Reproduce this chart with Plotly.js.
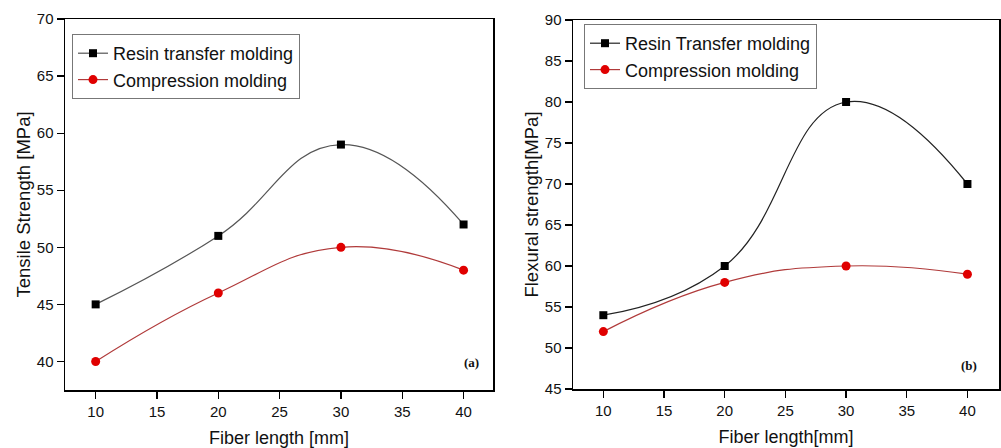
<!DOCTYPE html>
<html>
<head>
<meta charset="utf-8">
<script src="https://cdn.plot.ly/plotly-3.0.1.min.js"></script>
<style>html,body{margin:0;padding:0;background:#fff;}#chart{width:1001px;height:448px;}</style>
</head>
<body>
<div id="chart"></div>
<script>
const fiberLength = [10, 20, 30, 40];
const tensileRTM = [45, 51, 59, 52];
const tensileCM = [40, 46, 50, 48];
const flexuralRTM = [54, 60, 80, 70];
const flexuralCM = [52, 58, 60, 59];
const xTicks = [10, 15, 20, 25, 30, 35, 40];
const yTicksA = [40, 45, 50, 55, 60, 65, 70];
const yTicksB = [45, 50, 55, 60, 65, 70, 75, 80, 85, 90];

const FONT = 'Liberation Sans, Arial, sans-serif';

const traces = [
  {x: fiberLength, y: tensileRTM, name: 'Resin transfer molding', xaxis: 'x', yaxis: 'y', legend: 'legend',
   mode: 'lines+markers', line: {shape: 'spline', smoothing: 1.3, color: '#555555', width: 1.2},
   marker: {symbol: 'square', size: 8, color: '#000000'}},
  {x: fiberLength, y: tensileCM, name: 'Compression molding', xaxis: 'x', yaxis: 'y', legend: 'legend',
   mode: 'lines+markers', line: {shape: 'spline', smoothing: 1.3, color: '#b03a3a', width: 1.2},
   marker: {symbol: 'circle', size: 9, color: '#e00000'}},
  {x: fiberLength, y: flexuralRTM, name: 'Resin Transfer molding', xaxis: 'x2', yaxis: 'y2', legend: 'legend2',
   mode: 'lines+markers', line: {shape: 'spline', smoothing: 1.3, color: '#222222', width: 1.2},
   marker: {symbol: 'square', size: 8, color: '#000000'}},
  {x: fiberLength, y: flexuralCM, name: 'Compression molding', xaxis: 'x2', yaxis: 'y2', legend: 'legend2',
   mode: 'lines+markers', line: {shape: 'spline', smoothing: 1.3, color: '#b03a3a', width: 1.2},
   marker: {symbol: 'circle', size: 9, color: '#e00000'}}
];

function xax(domain, range, anchor, title) {
  return {domain: domain, range: range, anchor: anchor, tickvals: xTicks, ticks: 'outside', ticklen: 7, tickwidth: 1.2,
    tickcolor: '#000', showline: true, linecolor: '#000', linewidth: 1.5, mirror: true, showgrid: false, zeroline: false,
    tickfont: {family: FONT, size: 15, color: '#111'},
    title: {text: title, font: {family: FONT, size: 18, color: '#111'}, standoff: 13}, automargin: false};
}
function yax(domain, range, anchor, ticks, title) {
  return {domain: domain, range: range, anchor: anchor, tickvals: ticks, ticks: 'outside', ticklen: 7, tickwidth: 1.2,
    tickcolor: '#000', showline: true, linecolor: '#000', linewidth: 1.5, mirror: true, showgrid: false, zeroline: false,
    tickfont: {family: FONT, size: 15, color: '#111'},
    title: {text: title, font: {family: FONT, size: 18.5, color: '#111'}, standoff: 1}, automargin: false};
}

const layout = {
  width: 1001, height: 448,
  margin: {l: 0, r: 0, t: 0, b: 0},
  paper_bgcolor: '#fff', plot_bgcolor: '#fff',
  showlegend: true,
  xaxis: xax([65/1001, 493/1001], [7.5, 42.4], 'y', 'Fiber length [mm]'),
  yaxis: yax([1-390/448, 1-19/448], [37.5, 70], 'x', yTicksA, 'Tensile Strength [MPa]'),
  xaxis2: xax([573/1001, 999/1001], [7.5, 42.6], 'y2', 'Fiber length[mm]'),
  yaxis2: yax([1-389/448, 1-20/448], [45, 90], 'x2', yTicksB, 'Flexural strength[MPa]'),
  legend: {x: 72/1001, y: 1-34/448, xanchor: 'left', yanchor: 'top', bgcolor: '#fff', bordercolor: '#777', borderwidth: 1,
    font: {family: FONT, size: 18, color: '#111'}, tracegroupgap: 0, itemwidth: 30},
  legend2: {x: 584/1001, y: 1-24/448, xanchor: 'left', yanchor: 'top', bgcolor: '#fff', bordercolor: '#777', borderwidth: 1,
    font: {family: FONT, size: 18, color: '#111'}, tracegroupgap: 0, itemwidth: 30},
  annotations: [
    {text: '<b>(a)</b>', xref: 'paper', yref: 'paper', x: 471/1001, y: 1-372/448, showarrow: false,
     font: {family: 'Liberation Serif, Times New Roman, serif', size: 13, color: '#111'}},
    {text: '<b>(b)</b>', xref: 'paper', yref: 'paper', x: 979/1001, y: 1-375/448, showarrow: false,
     font: {family: 'Liberation Serif, Times New Roman, serif', size: 13, color: '#111'}}
  ]
};

Plotly.newPlot('chart', traces, layout, {displayModeBar: false, staticPlot: true});
</script>
</body>
</html>
